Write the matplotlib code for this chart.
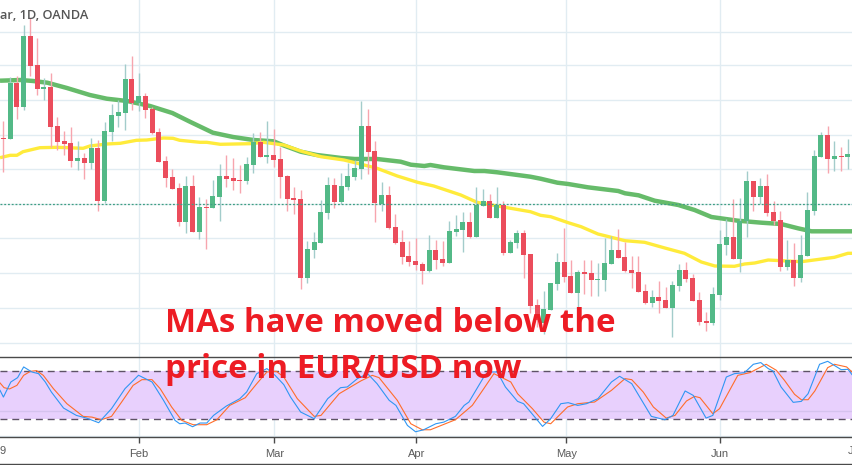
import matplotlib
matplotlib.use('Agg')
import matplotlib.pyplot as plt

candle_open = [138,139,83,107,36,65,89,87,126,141,143,161,158,163,148,201,132,116,113,79,103,96,109,132,161,177,188,222,186,232,207,208,197,176,178,180,181,165,142,157,155,159,
               176,198,199,278,250,243,213,185,202,187,177,169,126,151,204,195,227,242,256,261,264,271,250,259,263,232,230,222,237,206,201,218,205,253,243,233,254,305,323,310,284,262,
               276,293,272,273,280,280,264,250,257,270,272,291,303,297,300,308,286,270,278,300,321,323,295,245,237,259,221,181,197,186,212,220,267,260,278,256,211,157,135,159,156,157]
candle_high = [121,77,76,25,18,38,78,73,117,131,127,141,153,138,140,122,104,100,64,56,73,93,107,128,156,169,183,176,175,197,199,180,164,155,158,165,157,133,132,121,129,147,
               175,187,190,241,232,200,177,178,173,163,160,101,109,141,182,186,214,230,241,238,262,235,240,241,221,215,212,212,187,189,194,187,201,240,230,230,254,299,291,283,253,228,
               260,270,260,260,263,238,236,229,242,256,256,284,290,281,287,281,264,262,274,292,312,287,230,219,199,198,171,181,178,174,201,211,240,243,235,192,150,132,126,141,147,139]
candle_low = [172,139,119,110,76,95,100,147,150,155,167,170,179,169,211,203,141,127,130,110,111,118,134,162,187,189,226,233,232,239,249,208,221,187,190,193,184,173,157,163,167,198,
              211,214,289,283,258,243,219,208,204,190,180,179,174,222,211,229,244,264,266,270,284,272,269,266,263,236,252,238,237,206,218,218,255,253,248,278,313,327,334,310,290,282,
              293,310,294,296,296,291,264,258,272,288,292,304,307,313,308,337,291,282,301,325,331,325,300,255,259,272,237,211,204,216,225,271,270,286,282,256,215,157,173,171,171,169]
candle_close = [139,83,107,36,66,89,87,127,142,144,161,158,163,148,201,131,115,112,79,103,96,110,133,162,178,189,222,186,232,207,208,196,176,179,181,181,164,142,157,155,160,177,
                199,200,278,249,242,212,185,202,186,176,168,126,152,203,195,228,243,257,262,265,271,250,260,263,231,229,222,237,205,201,218,205,253,242,233,255,306,320,309,283,262,277,
                293,272,274,280,279,263,250,258,271,273,292,303,297,301,308,285,270,279,301,322,323,294,244,237,259,221,181,197,186,213,221,267,260,278,255,210,156,135,159,156,157,154]

ma100_idx = [-0.5,2.5,4.4,6.5,9.4,12.8,15.3,18.3,21.7,25,27.6,31,34,37,40,41.5,44,46.4,50,52,55.3,58.8,60.3,62.3,63.2,65.2,69.7,71.2,73.1,78,79.5,82,83.6,
             86.5,91,92,94,96.4,99.9,102.3,104.8,108.7,112.2,115.1,117.6,119.6,125.6]
ma100_val = [80.7,80,81,82.7,88,95,98.7,101,106,113,121.7,132.7,137,140,141.3,145.5,151.7,155,158,159,159,161.7,164.7,166,165,167.3,171,171,172.3,176.7,178.7,182.7,184,
             187.3,191,193.3,195.3,200.7,205,210,217,220.7,222.7,224,228.3,231.3,231.3]
ma50_idx = [-0.5,1,2,2.9,5.4,7.9,11.8,12.8,15.3,17.3,19.7,21.2,23.7,25.1,26.1,29.1,30.1,32.1,36.5,38.5,41.5,44,47,50.4,52.4,55.3,58.3,61.3,63.7,67.7,70.1,73.1,78,79.5,81,83.6,
            85.5,88,92,94.9,97.9,100.8,103.3,105.3,108.2,109.7,111.2,113.2,115.1,118.1,121.1,123,125,125.6]
ma50_val = [157.7,155.3,155.3,151.7,147.7,147.3,148.3,146,144,143.3,140.3,140,138,138.3,140.3,142.3,142.3,144.3,143.7,142.3,145,151,156.7,160,163.3,168.3,176,182.3,186,195,202.3,206,211.7,215.3,216.7,222.7,
            226.7,234,240.7,242.3,248,253.3,262,266,266.3,264,263,260,260.7,261.7,259,257.3,253.3,253.3]

k_idx = [-0.5,0,1.1,2.1,3,4.2,5.2,6.2,7.1,8.9,10.8,12.3,14.1,16,18,20,22,23.7,25.4,26.1,26.9,28,29.1,30.1,31.1,33,35,36,37.5,39,40.2,41.5,
         42.5,44,46,48,49.9,50.9,52.4,53.9,55.3,57.1,58.1,59.8,61,62.2,64,65.2,66.9,68.2,68.9,71.1,72.1,73.1,74.3,76.1,77,79.8,81,82.5,83.6,
         85,86.3,88,90,91.2,93,95.9,97.9,99.1,100.9,102.1,104,105,107,108.2,109.7,111,112.1,113.2,113.9,115.1,116.9,118.1,119.1,120.8,122,124,125,125.6]
k_val = [55.4,47,65.8,71.2,84.6,78.3,76.2,65.8,53.3,33.3,24.1,20.8,15,32.5,57.5,74.2,65.8,42.9,17.9,13.7,14.6,10,14.6,14.6,24.1,35.8,45,53.3,76.2,82.5,74.2,62.5,
         47,28.3,20,45,58.7,59.6,70,76.2,63.7,42.9,36.6,11.6,3.7,6.2,13.7,15.8,22.9,36.6,40.8,72,78.3,78.3,59.6,41.6,38.7,10.4,20,38.7,40,
         36.6,38.7,45,65.8,72.9,63.7,22.9,18.7,24.1,54.6,49.1,20.8,24.1,72,76.2,77.5,87.9,90,82.5,79.6,59.6,40.4,41.6,51.2,87.9,91.6,81.2,81.6,75]
d_idx = [-0.5,0.1,0.9,2,3,4,4.9,5.9,7.4,9.4,11.8,13.1,14.5,16,17.5,19.2,20.5,22,23.2,24.9,26.4,28.1,30.1,31.6,33.5,35.8,37.5,39,40.4,41.5,
         43.5,46,47,49.7,52.9,54.6,55.6,58.3,60.3,62,63.2,66.9,69.4,71.1,72.6,75.1,76.1,78.3,80,81,83.5,
         85,87.5,90,92,93,94.7,96.2,98.1,99.4,101.1,102.3,103.1,105,106,108.7,110.5,112.9,114.4,115.6,117.1,118.1,119.1,120.1,122,123,124.8,125.6]
d_val = [64.6,58.7,57.1,61.6,74.1,79.1,80,74.1,57.5,38.7,22.9,22,18.7,22.9,40.8,61.6,68.7,68.7,57.5,34.6,17.9,12.5,12.5,18.7,36.6,46.2,63.7,78.3,79.1,72,
         45,22.9,24.1,51.2,67.1,74.1,71.2,42.9,13.7,6.2,6.2,18.7,36.6,57.5,76.2,65.8,51.2,32.5,15.8,13.7,34.6,
         38.7,40.8,55.4,70,68.7,53.3,34.6,20.8,24.1,42.1,47.9,46.2,26.2,32.5,74.1,77.5,87.9,80.4,67.9,50.4,43.7,43.7,54.6,83.7,87.9,84.6,78.3]

grid_levels = [31.7,65.3,100.5,135,169.3,204,238.3,273.3,307.5,342.7]
last_price = 203.5
month_pos = [20.1,40.1,61.1,83.3,106.1]
month_labels = ['Feb','Mar','Apr','May','Jun']

GREEN = '#53b987'
RED = '#eb4d5c'
GRID = '#e1ecf2'
LINE = '#4a4a4a'
W, H = 852, 465

plt.rcParams['font.family'] = ['Liberation Sans', 'DejaVu Sans']

fig = plt.figure(figsize=(W / 100, H / 100), dpi=100)
ax = fig.add_axes([0, 1 - 356.5 / H, 1, 356.5 / H])
sub = fig.add_axes([0, 1 - 436.5 / H, 1, 80 / H])

# candles
idx = list(range(len(candle_open)))
colors = [GREEN if c < o else RED for o, c in zip(candle_open, candle_close)]
wick_colors = ['#a3cccb' if c < o else '#f7a5ae' for o, c in zip(candle_open, candle_close)]
tops = [min(o, c) for o, c in zip(candle_open, candle_close)]
heights = [abs(o - c) for o, c in zip(candle_open, candle_close)]

for v in grid_levels:
    ax.axhline(v, color=GRID, lw=1, zorder=1)
for m in month_pos:
    ax.axvline(m, color=GRID, lw=1, zorder=1)
    sub.axvline(m, color=GRID, lw=1, zorder=1)

ax.plot(ma100_idx, ma100_val, color='#66bb6a', lw=3.2, zorder=2, solid_capstyle='butt')
ax.plot(ma50_idx, ma50_val, color='#ffeb3b', lw=2.4, zorder=2.1, solid_capstyle='butt')
ax.vlines(idx, candle_high, candle_low, colors=wick_colors, lw=1, zorder=3)
ax.bar(idx, heights, bottom=tops, width=0.74, color=colors, zorder=4)
ax.axhline(last_price, color='#3f9f83', lw=0.9, ls=(0, (1.5, 1.5)), zorder=5)

ax.set_xlim(-0.503, 125.6)
ax.set_ylim(356.5, 0)
ax.axis('off')

# stochastic panel
sub.axhspan(20, 80, color='#e8d0fd', lw=0, zorder=2)
sub.axhline(-1, color=GRID, lw=1, zorder=1)
sub.axhline(30, color='#d5c2ee', lw=1, zorder=3)
sub.axhline(80, color='#5e5266', lw=1, ls=(0, (5, 3.5)), zorder=4)
sub.axhline(20, color='#5e5266', lw=1, ls=(0, (5, 3.5)), zorder=4)
sub.plot(d_idx, d_val, color='#ff6d2a', lw=0.8, zorder=5)
sub.plot(k_idx, k_val, color='#2f96f3', lw=0.8, zorder=6)
sub.set_xlim(-0.503, 125.6)
sub.set_ylim(-2.2, 97.6)
sub.set_yticks([])
sub.set_xticks(month_pos)
sub.set_xticklabels(month_labels, fontsize=8, color='#5a5a5a')
sub.tick_params(axis='x', length=4, width=1, color=LINE, pad=5)
for s in ['left', 'right']:
    sub.spines[s].set_visible(False)
for s in ['top', 'bottom']:
    sub.spines[s].set_color(LINE)
    sub.spines[s].set_linewidth(1)

# frame line and texts on the figure itself
fig.add_artist(plt.Line2D([0, 1], [1 - 463.5 / H] * 2, color=LINE, lw=1))

# only the ends of these labels show at the picture's edges
fig.text(0, 1 - 451 / H, '9', ha='left', va='center', fontsize=8, color='#5a5a5a')
fig.text(848 / W, 1 - 451 / H, 'J', ha='left', va='center', fontsize=8, color='#5a5a5a')

fig.text(0, 1 - 15.7 / H, 'ar, 1D, OANDA', ha='left', va='center',
         fontsize=9.2, color='#555555', family=['Open Sans', 'DejaVu Sans'], weight='semibold')
fig.text(165 / W, 1 - 332 / H, 'MAs have moved below the', ha='left', va='baseline',
         fontsize=23.8, color='#ed1c24', family=['Open Sans', 'DejaVu Sans'], weight='bold')
fig.text(165 / W, 1 - 378 / H, 'price in EUR/USD now', ha='left', va='baseline',
         fontsize=23.8, color='#ed1c24', family=['Open Sans', 'DejaVu Sans'], weight='bold')

fig.savefig('out.png', dpi=100)
